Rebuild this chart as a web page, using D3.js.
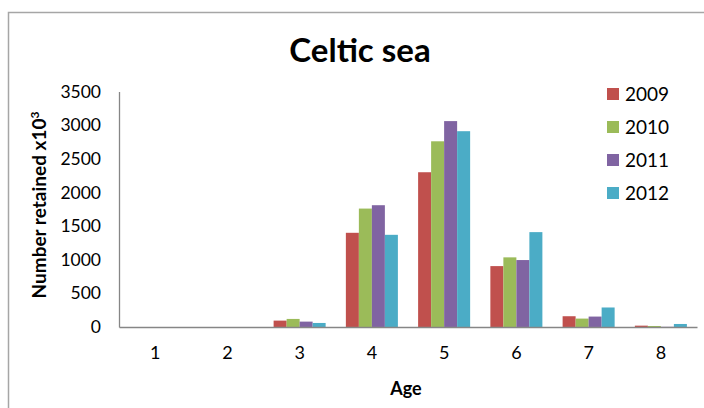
<!DOCTYPE html>
<html>
<head>
<meta charset="utf-8">
<script src="https://cdn.jsdelivr.net/npm/d3@7"></script>
<style>
  html, body { margin: 0; padding: 0; background: #fff; }
  svg { display: block; font-family: Lato, "Open Sans", sans-serif; }
</style>
</head>
<body>
<svg id="chart" width="704" height="408"></svg>
<script>
// Numbers retained (thousands) by age class, Celtic Sea
const ages = ["1", "2", "3", "4", "5", "6", "7", "8"];
const years = ["2009", "2010", "2011", "2012"];
const colors = ["#C0504D", "#9BBB59", "#8064A2", "#4BACC6"];
const values2009 = [0, 0, 95, 1400, 2300, 905, 160, 20];
const values2010 = [0, 0, 120, 1760, 2760, 1035, 125, 15];
const values2011 = [0, 0, 80, 1810, 3060, 995, 155, 3];
const values2012 = [0, 0, 60, 1370, 2910, 1410, 290, 45];
const yTicks = [0, 500, 1000, 1500, 2000, 2500, 3000, 3500];

const series = [values2009, values2010, values2011, values2012];

const svg = d3.select("#chart");

// chart frame
svg.append("rect")
  .attr("x", 8.5).attr("y", 12.5)
  .attr("width", 720).attr("height", 420)
  .attr("fill", "none").attr("stroke", "#a6a6a6").attr("stroke-width", 1.5);

const plot = { left: 119, right: 697, top: 91.5, bottom: 327 };

const x = d3.scaleBand().domain(ages)
  .range([plot.left, plot.right])
  .paddingInner(0.28).paddingOuter(0.14);
const xs = d3.scaleBand().domain(years)
  .range([0, x.bandwidth()]);
const y = d3.scaleLinear().domain([0, 3500])
  .range([plot.bottom, plot.top]);

// bars
years.forEach((yr, si) => {
  svg.append("g").selectAll("rect")
    .data(series[si])
    .join("rect")
    .attr("x", (d, i) => x(ages[i]) + xs(yr))
    .attr("y", d => y(d))
    .attr("width", xs.bandwidth())
    .attr("height", d => y(0) - y(d))
    .attr("fill", colors[si]);
});

// y axis
const yAxis = svg.append("g")
  .attr("transform", `translate(${plot.left},0)`)
  .call(d3.axisLeft(y).tickValues(yTicks).tickSize(0).tickPadding(18).tickFormat(d3.format("d")));
yAxis.select(".domain").attr("stroke", "#868686").attr("stroke-width", 1.3);
yAxis.selectAll("text").attr("font-size", 17.5).attr("fill", "#000")
  .attr("font-family", "Lato, sans-serif");

// x axis
const xAxis = svg.append("g")
  .attr("transform", `translate(0,${plot.bottom})`)
  .call(d3.axisBottom(x).tickSize(0).tickPadding(19));
xAxis.select(".domain").attr("stroke", "#868686").attr("stroke-width", 1.3);
xAxis.selectAll("text").attr("font-size", 18).attr("fill", "#000")
  .attr("font-family", "Lato, sans-serif");

// title
svg.append("text")
  .attr("x", 360).attr("y", 62)
  .attr("text-anchor", "middle")
  .attr("font-size", 33).attr("font-weight", "bold")
  .text("Celtic sea");

// axis titles
svg.append("text")
  .attr("x", 406).attr("y", 395)
  .attr("text-anchor", "middle")
  .attr("font-size", 18).attr("font-weight", "bold")
  .text("Age");

const yTitle = svg.append("text")
  .attr("transform", "translate(46,205) rotate(-90)")
  .attr("text-anchor", "middle")
  .attr("font-size", 19).attr("font-weight", "bold");
yTitle.append("tspan").text("Number retained  x10");
yTitle.append("tspan").attr("dy", -7).attr("font-size", 12).text("3");

// legend
const legend = svg.append("g").selectAll("g")
  .data(years)
  .join("g")
  .attr("transform", (d, i) => `translate(607,${88 + i * 33})`);
legend.append("rect")
  .attr("width", 12).attr("height", 12)
  .attr("fill", (d, i) => colors[i]);
legend.append("text")
  .attr("x", 18).attr("y", 12.5)
  .attr("font-size", 19)
  .text(d => d);
</script>
</body>
</html>
